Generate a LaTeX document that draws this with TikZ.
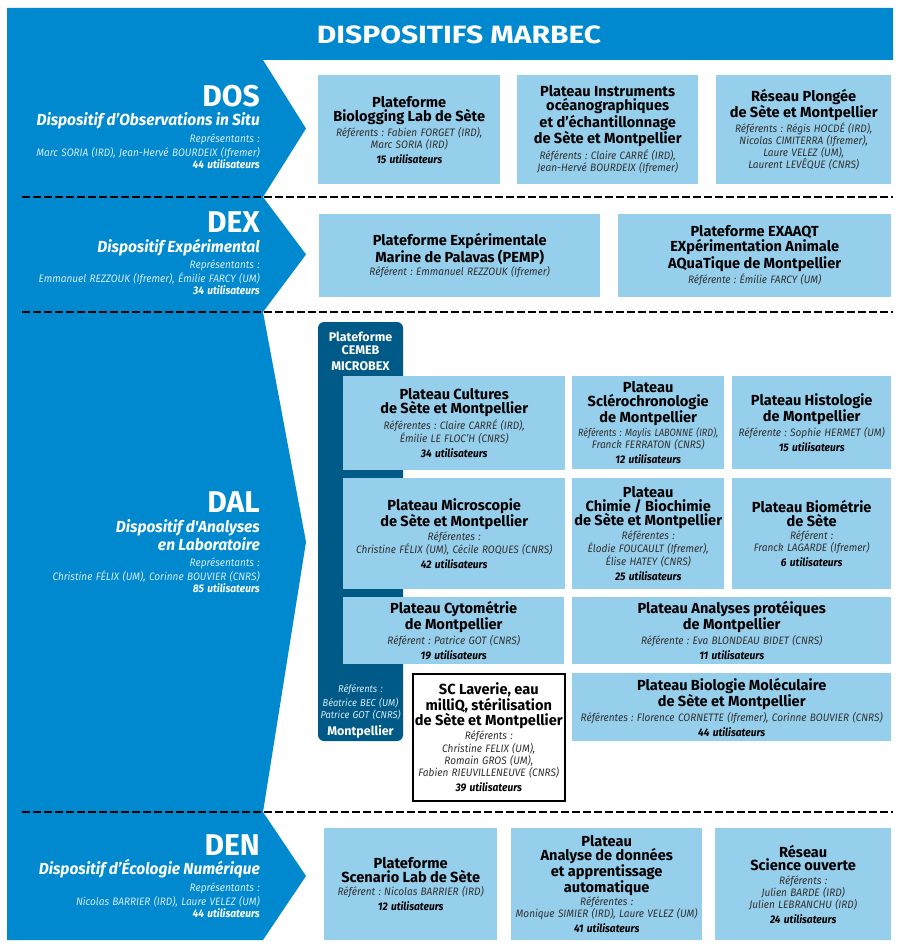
\documentclass[tikz,border=0pt]{standalone}
\usepackage{fontspec}
\setmainfont{Fira Sans}
\newfontfamily\condfont[FakeStretch=0.93]{Fira Sans}
\newfontfamily\narrowfont[FakeStretch=0.86]{Fira Sans}
\newfontfamily\subfont[FakeStretch=0.97]{Fira Sans}
\newfontfamily\widefont[FakeStretch=1.2]{Fira Sans}
\definecolor{mblue}{HTML}{0089CF}
\definecolor{lblue}{HTML}{96CFEC}
\definecolor{dblue}{HTML}{005A87}
\definecolor{lighttext}{HTML}{D6ECF8}
\definecolor{refgray}{HTML}{303030}
% box text fonts
\newcommand\tf{\normalfont\bfseries\fontsize{14.6}{13.9}\selectfont\color{black}}
\newcommand\rf{\condfont\mdseries\itshape\fontsize{10.8}{12}\selectfont\color{refgray}}
\newcommand\rfn{\narrowfont\mdseries\itshape\fontsize{10.6}{12}\selectfont\color{refgray}}
\newcommand\uf{\condfont\bfseries\itshape\fontsize{11}{12}\selectfont\color{black}}
% left panel fonts
\newcommand\bigf{\normalfont\bfseries\fontsize{30}{29}\selectfont}
\newcommand\subf{\subfont\bfseries\itshape\fontsize{16}{19.5}\selectfont}
\newcommand\repf{\condfont\mdseries\itshape\fontsize{10.8}{16.5}\selectfont\color{lighttext}}
\newcommand\namef{\condfont\mdseries\itshape\fontsize{10.8}{14}\selectfont\color{lighttext}}
\newcommand\usef{\condfont\bfseries\itshape\fontsize{11}{15}\selectfont\color{white}}
% cemeb fonts
\newcommand\cf{\normalfont\bfseries\upshape\fontsize{12.5}{13}\selectfont\color{white}}
\newcommand\crf{\condfont\mdseries\itshape\fontsize{10}{13}\selectfont\color{lighttext}}
\tikzset{
  lbox/.style={fill=lblue, draw=none, inner ysep=0pt, inner xsep=-10pt, align=center, anchor=north west},
  wbox/.style={fill=white, draw=black, line width=1.6pt, inner ysep=0pt, inner xsep=-10pt, align=center, anchor=north west},
  sect/.style={inner sep=0pt, align=right, anchor=north east, text width=250pt, text=white},
  sepline/.style={draw=black, line width=2.2pt, dash pattern=on 7.5pt off 3.5pt},
  cemebtext/.style={inner sep=0pt, align=center, anchor=north, text width=84pt}
}
\newcommand\pbox[7][lbox]{%
  \pgfmathsetmacro\bw{#4-#2}\pgfmathsetmacro\bh{#5-#3}\pgfmathsetmacro\tw{#4-#2+20}%
  \node[#1, minimum width=\bw pt, minimum height=\bh pt, text width=\tw pt] (#6) at (#2,#3) {#7};}
\begin{document}
\frenchspacing
\begin{tikzpicture}[x=1pt,y=-1pt]
\useasboundingbox (0,0) rectangle (900,949);
% blue frame with chevrons
\fill[mblue] (7,8) -- (893,8) -- (893,60) -- (263,60) -- (306,128.5) -- (263,197)
  -- (306,254.5) -- (263,312) -- (306,542) -- (263,812) -- (306,876) -- (263,940)
  -- (7,940) -- cycle;
\node[font=\widefont\fontsize{25}{25}\selectfont\bfseries, text=white, inner sep=0pt] (title) at (459,34.5) {DISPOSITIFS MARBEC};
% separators
\draw[sepline] (22,197) -- (893,197);
\draw[sepline] (22,312) -- (893,312);
\draw[sepline] (22,812) -- (893,812);
% left panel
\node[sect] (dos) at (260,85) {\bigf DOS\\\subf Dispositif d’Observations in Situ\\\repf Représentants :\\\namef Marc SORIA (IRD), Jean-Hervé BOURDEIX (Ifremer)\\\usef 44 utilisateurs};
\node[sect] (dex) at (260,212) {\bigf DEX\\\subf Dispositif Expérimental\\\repf Représentants :\\\namef Emmanuel REZZOUK (Ifremer), Émilie FARCY (UM)\\\usef 34 utilisateurs};
\node[sect] (dal) at (260,492) {\bigf DAL\\\subf Dispositif d'Analyses\\[-1.5pt]en Laboratoire\\\repf Représentants :\\\namef Christine FÉLIX (UM), Corinne BOUVIER (CNRS)\\\usef 85 utilisateurs};
\node[sect] (den) at (260,834) {\bigf DEN\\\subf Dispositif d’Écologie Numérique\\\repf Représentants :\\\namef Nicolas BARRIER (IRD), Laure VELEZ (UM)\\\usef 44 utilisateurs};
% DOS boxes
\pbox{318}{75}{500}{184}{dos1}{\tf Plateforme\\Biologging Lab de Sète\\[1.5pt]\rf Référents : Fabien FORGET (IRD),\\Marc SORIA (IRD)\\[3pt]\uf 15 utilisateurs}
\pbox{517}{75}{698}{184}{dos2}{\tf Plateau Instruments\\océanographiques\\et d’échantillonnage\\de Sète et Montpellier\\[1.5pt]\rf Référents : Claire CARRÉ (IRD),\\Jean-Hervé BOURDEIX (Ifremer)}
\pbox{716}{75}{891}{184}{dos3}{\tf Réseau Plongée\\de Sète et Montpellier\\[1.5pt]\rf Référents : Régis HOCDÉ (IRD),\\Nicolas CIMITERRA (Ifremer),\\Laure VELEZ (UM),\\Laurent LEVÊQUE (CNRS)}
% DEX boxes
\pbox{319}{214}{600}{297}{dex1}{\tf Plateforme Expérimentale\\Marine de Palavas (PEMP)\\[1.5pt]\rf Référent : Emmanuel REZZOUK (Ifremer)}
\pbox{618}{214}{891}{297}{dex2}{\tf Plateforme EXAAQT\\EXpérimentation Animale\\AQuaTique de Montpellier\\[1.5pt]\rf Référente : Émilie FARCY (UM)}
% DAL
\fill[dblue, rounded corners=6pt] (318,322) rectangle (403,741);
\node[cemebtext] (cemebtop) at (360.5,331.5) {\cf Plateforme\\CEMEB\\[4pt]MICROBEX};
\node[cemebtext] (cemebbot) at (360.5,684) {\crf Référents :\\[1pt]Béatrice BEC (UM)\\[-1pt]Patrice GOT (CNRS)\\[5pt]\cf Montpellier};
\pbox{343}{376}{565}{470}{cult}{\tf Plateau Cultures\\de Sète et Montpellier\\[1.5pt]\rf Référentes : Claire CARRÉ (IRD),\\Émilie LE FLOC’H (CNRS)\\[3pt]\uf 34 utilisateurs}
\pbox{572}{376}{724}{469}{sclero}{\tf Plateau\\Sclérochronologie\\de Montpellier\\[1.5pt]\rfn Référents : Maylis LABONNE (IRD),\\\rf Franck FERRATON (CNRS)\\[3pt]\uf 12 utilisateurs}
\pbox{732}{376}{891}{469}{histo}{\tf Plateau Histologie\\de Montpellier\\[1.5pt]\rf Référente : Sophie HERMET (UM)\\[3pt]\uf 15 utilisateurs}
\pbox{343}{478}{565}{589}{micro}{\tf Plateau Microscopie\\de Sète et Montpellier\\[1.5pt]\rf Référentes :\\Christine FÉLIX (UM), Cécile ROQUES (CNRS)\\[3pt]\uf 42 utilisateurs}
\pbox{572}{478}{724}{589}{chimie}{\tf Plateau\\Chimie / Biochimie\\de Sète et Montpellier\\[1.5pt]\rf Référentes :\\Élodie FOUCAULT (Ifremer),\\Élise HATEY (CNRS)\\[3pt]\uf 25 utilisateurs}
\pbox{732}{478}{891}{589}{biom}{\tf Plateau Biométrie\\de Sète\\[1.5pt]\rf Référent :\\Franck LAGARDE (Ifremer)\\[3pt]\uf 6 utilisateurs}
\pbox{343}{597}{564}{664}{cyto}{\tf Plateau Cytométrie\\de Montpellier\\[1.5pt]\rf Référent : Patrice GOT (CNRS)\\[3pt]\uf 19 utilisateurs}
\pbox{572}{597}{891}{664}{prot}{\tf Plateau Analyses protéiques\\de Montpellier\\[1.5pt]\rf Référente : Eva BLONDEAU BIDET (CNRS)\\[3pt]\uf 11 utilisateurs}
\pbox{572}{673}{891}{741}{biomol}{\tf Plateau Biologie Moléculaire\\de Sète et Montpellier\\[1.5pt]\rf Référentes : Florence CORNETTE (Ifremer), Corinne BOUVIER (CNRS)\\[3pt]\uf 44 utilisateurs}
\pbox[wbox]{412}{673}{564}{800}{laverie}{\tf SC Laverie, eau\\milliQ, stérilisation\\de Sète et Montpellier\\[2pt]\rf Référents :\\[1pt]Christine FELIX (UM),\\Romain GROS (UM),\\Fabien RIEUVILLENEUVE (CNRS)\\[3pt]\uf 39 utilisateurs}
% DEN boxes
\pbox{324}{828}{497}{940}{den1}{\tf Plateforme\\Scenario Lab de Sète\\[1.5pt]\rf Référent : Nicolas BARRIER (IRD)\\[3pt]\uf 12 utilisateurs}
\pbox{511}{828}{702}{940}{den2}{\tf Plateau\\Analyse de données\\et apprentissage\\automatique\\[1.5pt]\rf Référentes :\\Monique SIMIER (IRD), Laure VELEZ (UM)\\[3pt]\uf 41 utilisateurs}
\pbox{715}{828}{891}{940}{den3}{\tf Réseau\\Science ouverte\\[1.5pt]\rf Référents :\\Julien BARDE (IRD)\\Julien LEBRANCHU (IRD)\\[3pt]\uf 24 utilisateurs}
\end{tikzpicture}
\end{document}
